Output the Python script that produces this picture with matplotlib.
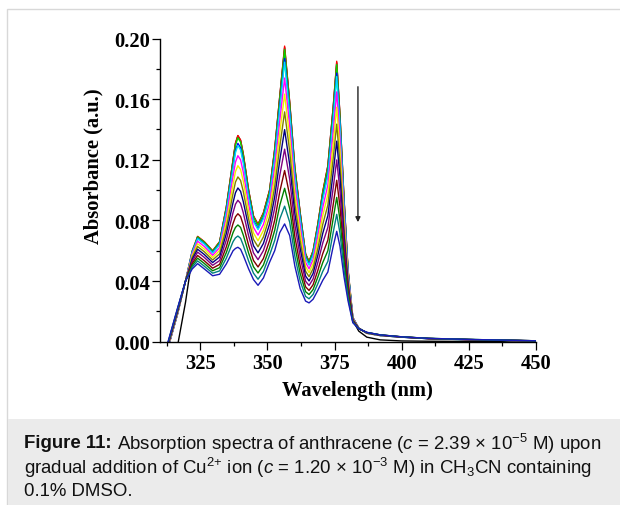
import matplotlib
matplotlib.use("Agg")
import matplotlib.pyplot as plt
from matplotlib.patches import Rectangle

# wavelength grid (nm) shared by all spectra
wavelength = [313, 316.5, 319.5, 322, 324, 326.5, 329.6, 332.2, 334.7, 337.2,
              338.1, 339.0, 340.0, 341.0, 343.0, 344.8, 346.5, 348.5, 350.8, 352.7,
              354.6, 356.4, 358.3, 360.2, 362.2, 364.2, 365.5, 367.0, 368.8, 370.6,
              372.5, 374.5, 375.8, 377.0, 378.5, 380.0, 381.8, 384.0, 387.0, 392.0,
              400, 410, 425, 450]

# absorbance, one list per Cu2+ addition
abs_black = [-0.012, -0.003, 0.026, 0.056, 0.0692, 0.0658, 0.0598, 0.0658, 0.0888, 0.1198,
             0.1308, 0.1358, 0.1328, 0.1238, 0.0998, 0.0828, 0.0773, 0.0848, 0.0998, 0.1268,
             0.1618, 0.1940, 0.1575, 0.1148, 0.0848, 0.0578, 0.0528, 0.0598, 0.0778, 0.0988,
             0.1158, 0.1548, 0.1840, 0.1495, 0.0945, 0.0470, 0.0140, 0.0070, 0.0030, 0.0012,
             0.0005, 0.0003, 0.0002, 0.0001]
abs_red = [-0.004, 0.018, 0.040, 0.060, 0.0695, 0.066, 0.060, 0.066, 0.089, 0.120,
           0.131, 0.136, 0.133, 0.124, 0.100, 0.083, 0.0775, 0.085, 0.100, 0.127,
           0.162, 0.195, 0.158, 0.115, 0.085, 0.058, 0.053, 0.060, 0.078, 0.099,
           0.116, 0.155, 0.185, 0.150, 0.095, 0.048, 0.016, 0.0090, 0.0055, 0.0040,
           0.0030, 0.0020, 0.0013, 0.0005]
abs_green = [-0.0039, 0.0181, 0.040, 0.0598, 0.0691, 0.0656, 0.0597, 0.0656, 0.0882, 0.1188,
             0.1296, 0.1345, 0.1316, 0.1227, 0.0990, 0.0822, 0.0767, 0.0841, 0.0990, 0.1257,
             0.1602, 0.1927, 0.1562, 0.1137, 0.0840, 0.0574, 0.0525, 0.0594, 0.0771, 0.0978,
             0.1146, 0.1532, 0.1828, 0.1483, 0.0940, 0.0476, 0.0159, 0.0090, 0.0056, 0.0041,
             0.0030, 0.0020, 0.0013, 0.0005]
abs_blue = [-0.0037, 0.0183, 0.040, 0.0592, 0.0682, 0.0647, 0.0588, 0.0645, 0.0864, 0.1158,
            0.1261, 0.1308, 0.1280, 0.1193, 0.0964, 0.0801, 0.0747, 0.0820, 0.0967, 0.1223,
            0.1557, 0.1868, 0.1518, 0.1105, 0.0815, 0.0558, 0.0511, 0.0578, 0.0749, 0.0949,
            0.1111, 0.1486, 0.1772, 0.1439, 0.0914, 0.0465, 0.0158, 0.0090, 0.0057, 0.0041,
            0.0030, 0.0020, 0.0013, 0.0005]
abs_cyan = [-0.0036, 0.0184, 0.040, 0.0589, 0.0679, 0.0644, 0.0585, 0.0641, 0.0856, 0.1146,
            0.1247, 0.1294, 0.1265, 0.1180, 0.0953, 0.0792, 0.0739, 0.0811, 0.0957, 0.1210,
            0.1539, 0.1844, 0.1501, 0.1092, 0.0805, 0.0552, 0.0505, 0.0571, 0.0740, 0.0937,
            0.1097, 0.1467, 0.1749, 0.1422, 0.0903, 0.0461, 0.0157, 0.0089, 0.0057, 0.0041,
            0.0030, 0.0020, 0.0013, 0.0005]
abs_magenta = [-0.0033, 0.0187, 0.040, 0.0578, 0.0663, 0.0628, 0.0570, 0.0621, 0.0822, 0.1092,
               0.1185, 0.1227, 0.1200, 0.1119, 0.0906, 0.0754, 0.0703, 0.0773, 0.0914, 0.1149,
               0.1458, 0.1739, 0.1422, 0.1033, 0.0760, 0.0524, 0.0481, 0.0542, 0.0701, 0.0885,
               0.1034, 0.1384, 0.1648, 0.1343, 0.0856, 0.0442, 0.0154, 0.0089, 0.0058, 0.0042,
               0.0031, 0.0021, 0.0014, 0.0005]
abs_yellow = [-0.0029, 0.0191, 0.040, 0.0568, 0.0646, 0.0611, 0.0555, 0.0602, 0.0788, 0.1038,
              0.1122, 0.1161, 0.1136, 0.1059, 0.0860, 0.0717, 0.0666, 0.0734, 0.0872, 0.1089,
              0.1377, 0.1633, 0.1342, 0.0975, 0.0715, 0.0496, 0.0456, 0.0514, 0.0661, 0.0832,
              0.0971, 0.1302, 0.1547, 0.1265, 0.0810, 0.0423, 0.0151, 0.0088, 0.0058, 0.0042,
              0.0031, 0.0021, 0.0014, 0.0005]
abs_dkyellow = [-0.0025, 0.0195, 0.040, 0.0556, 0.0628, 0.0593, 0.0539, 0.0580, 0.0751, 0.0978,
                0.1053, 0.1087, 0.1064, 0.0992, 0.0808, 0.0675, 0.0626, 0.0691, 0.0824, 0.1022,
                0.1287, 0.1516, 0.1254, 0.0910, 0.0665, 0.0465, 0.0429, 0.0482, 0.0617, 0.0774,
                0.0901, 0.1210, 0.1435, 0.1178, 0.0758, 0.0402, 0.0147, 0.0088, 0.0059, 0.0043,
                0.0031, 0.0021, 0.0014, 0.0005]
abs_navy = [-0.0021, 0.0199, 0.040, 0.0544, 0.0610, 0.0575, 0.0522, 0.0559, 0.0713, 0.0918,
            0.0983, 0.1014, 0.0992, 0.0925, 0.0756, 0.0633, 0.0586, 0.0648, 0.0776, 0.0955,
            0.1197, 0.1399, 0.1166, 0.0845, 0.0615, 0.0433, 0.0401, 0.0450, 0.0573, 0.0715,
            0.0831, 0.1118, 0.1323, 0.1091, 0.0706, 0.0381, 0.0144, 0.0087, 0.0059, 0.0043,
            0.0031, 0.0021, 0.0014, 0.0005]
abs_purple = [-0.0017, 0.0203, 0.040, 0.0530, 0.0591, 0.0556, 0.0504, 0.0535, 0.0671, 0.0852,
              0.0907, 0.0933, 0.0912, 0.0851, 0.0698, 0.0586, 0.0541, 0.0601, 0.0724, 0.0881,
              0.1098, 0.1270, 0.1070, 0.0773, 0.0560, 0.0399, 0.0371, 0.0414, 0.0525, 0.0651,
              0.0754, 0.1016, 0.1199, 0.0995, 0.0648, 0.0358, 0.0140, 0.0087, 0.0060, 0.0044,
              0.0031, 0.0021, 0.0014, 0.0006]
abs_wine = [-0.0012, 0.0208, 0.040, 0.0516, 0.0569, 0.0534, 0.0485, 0.0510, 0.0626, 0.0780,
            0.0824, 0.0844, 0.0826, 0.0771, 0.0636, 0.0536, 0.0493, 0.0549, 0.0667, 0.0801,
            0.0990, 0.1129, 0.0964, 0.0695, 0.0500, 0.0362, 0.0338, 0.0376, 0.0472, 0.0581,
            0.0670, 0.0906, 0.1065, 0.0891, 0.0586, 0.0333, 0.0136, 0.0086, 0.0060, 0.0044,
            0.0032, 0.0021, 0.0014, 0.0006]
abs_olive = [-0.0008, 0.0212, 0.040, 0.0504, 0.0551, 0.0516, 0.0468, 0.0488, 0.0588, 0.0720,
             0.0754, 0.0770, 0.0754, 0.0704, 0.0584, 0.0494, 0.0453, 0.0506, 0.0619, 0.0734,
             0.0900, 0.1012, 0.0876, 0.0630, 0.0450, 0.0330, 0.0311, 0.0344, 0.0428, 0.0522,
             0.0600, 0.0814, 0.0952, 0.0804, 0.0534, 0.0312, 0.0132, 0.0086, 0.0061, 0.0045,
             0.0032, 0.0022, 0.0015, 0.0006]
abs_dkcyan = [-0.0004, 0.0216, 0.040, 0.0492, 0.0533, 0.0498, 0.0452, 0.0467, 0.0551, 0.0660,
              0.0685, 0.0697, 0.0682, 0.0637, 0.0532, 0.0452, 0.0412, 0.0463, 0.0572, 0.0667,
              0.0810, 0.0894, 0.0788, 0.0565, 0.0400, 0.0299, 0.0283, 0.0312, 0.0384, 0.0464,
              0.0530, 0.0722, 0.0840, 0.0717, 0.0482, 0.0291, 0.0129, 0.0086, 0.0061, 0.0045,
              0.0032, 0.0022, 0.0015, 0.0006]
abs_royal = [0.000, 0.022, 0.040, 0.048, 0.0515, 0.048, 0.0435, 0.0445, 0.0513, 0.060,
             0.0615, 0.0623, 0.061, 0.057, 0.048, 0.041, 0.0372, 0.042, 0.0524, 0.060,
             0.072, 0.0777, 0.070, 0.050, 0.035, 0.0268, 0.0256, 0.028, 0.034, 0.0405,
             0.046, 0.063, 0.0728, 0.063, 0.043, 0.027, 0.0125, 0.0085, 0.0062, 0.0045,
             0.0032, 0.0022, 0.0015, 0.0006]

spectra = [abs_black, abs_red, abs_green, abs_blue, abs_cyan, abs_magenta, abs_yellow,
           abs_dkyellow, abs_navy, abs_purple, abs_wine, abs_olive, abs_dkcyan, abs_royal]
colors = ['#000000', '#ff0000', '#00d800', '#0000ff', '#00e8f0', '#ff00ff', '#f0f000',
          '#808000', '#000080', '#800080', '#800000', '#008000', '#008080', '#1a1ab8']

x_ticks = [325, 350, 375, 400, 425, 450]
y_ticks = [0.00, 0.04, 0.08, 0.12, 0.16, 0.20]

caption_bold = "Figure 11:"
caption = [r" Absorption spectra of anthracene ($c$ = 2.39 × 10$^{-5}$ M) upon",
           r"gradual addition of Cu$^{2{+}}$ ion ($c$ = 1.20 × 10$^{-3}$ M) in CH$_3$CN containing",
           "0.1% DMSO."]

plt.rcParams['mathtext.fontset'] = 'custom'
plt.rcParams['mathtext.rm'] = 'Liberation Sans'
plt.rcParams['mathtext.it'] = 'Liberation Sans:italic'
plt.rcParams['mathtext.bf'] = 'Liberation Sans:bold'

W, H = 620, 506
fig = plt.figure(figsize=(W / 100, H / 100), dpi=100)

# frame and caption box
fig.patches.append(Rectangle((7 / W, 0), 1, (H - 10) / H, transform=fig.transFigure,
                             facecolor='white', edgecolor='#d8d8d8', lw=1.0, zorder=-2))
fig.patches.append(Rectangle((8 / W, 0), 1, (H - 420) / H, transform=fig.transFigure,
                             facecolor='#ebebeb', edgecolor='none', zorder=-1))

ax = fig.add_axes([160 / W, (H - 342.7) / H, 376 / W, 303.2 / H])
ax.set_facecolor('none')
ax.set_zorder(5)

for spec, col in zip(spectra, colors):
    ax.plot(wavelength, spec, color=col, lw=1.0)

ax.annotate('', xy=(383.7, 0.077), xytext=(383.7, 0.170),
            arrowprops=dict(arrowstyle='-|>', color='#222222', lw=1.0, mutation_scale=7))

ax.set_xlim(310, 450)
ax.set_ylim(0, 0.20)
ax.set_xticks(x_ticks)
ax.set_yticks(y_ticks)
ax.set_xticks([312.5, 337.5, 362.5, 387.5, 412.5, 437.5], minor=True)
ax.set_yticks([0.02, 0.06, 0.10, 0.14, 0.18], minor=True)
ax.set_yticklabels([f"{v:.2f}" for v in y_ticks])

for s in ['top', 'right']:
    ax.spines[s].set_visible(False)
for s in ['left', 'bottom']:
    ax.spines[s].set_linewidth(1.0)

ax.tick_params(which='major', direction='out', length=6, width=0.9)
ax.tick_params(which='minor', direction='out', length=3, width=0.9)
ax.tick_params(axis='x', which='major', pad=2)
ax.tick_params(axis='y', which='major', pad=1)

font_size = 14.8
tick_font = dict(family='Liberation Serif', weight='bold', size=font_size)
for lab in ax.get_xticklabels() + ax.get_yticklabels():
    lab.set_fontfamily('Liberation Serif')
    lab.set_fontweight('bold')
    lab.set_fontsize(font_size)

ax.set_xlabel('Wavelength (nm)', **tick_font)
ax.set_ylabel('Absorbance (a.u.)', **tick_font)
ax.xaxis.set_label_coords(0.525, -0.125)
ax.yaxis.set_label_coords(-0.15, 0.583)

cap_size = 13.4
renderer = fig.canvas.get_renderer()
t0 = fig.text(24 / W, (H - 444) / H, caption_bold, family='Liberation Sans',
              weight='bold', fontsize=cap_size, va='center', ha='left', color='#111111')
bb = t0.get_window_extent(renderer)
fig.text(bb.x1 / W, (H - 444) / H, caption[0], family='Liberation Sans',
         fontsize=cap_size, va='center', ha='left', color='#111111')
for i, line in enumerate(caption[1:], start=1):
    fig.text(24 / W, (H - 444 - 24 * i) / H, line, family='Liberation Sans',
             fontsize=cap_size, va='center', ha='left', color='#111111')

fig.savefig('out.png', dpi=100)
